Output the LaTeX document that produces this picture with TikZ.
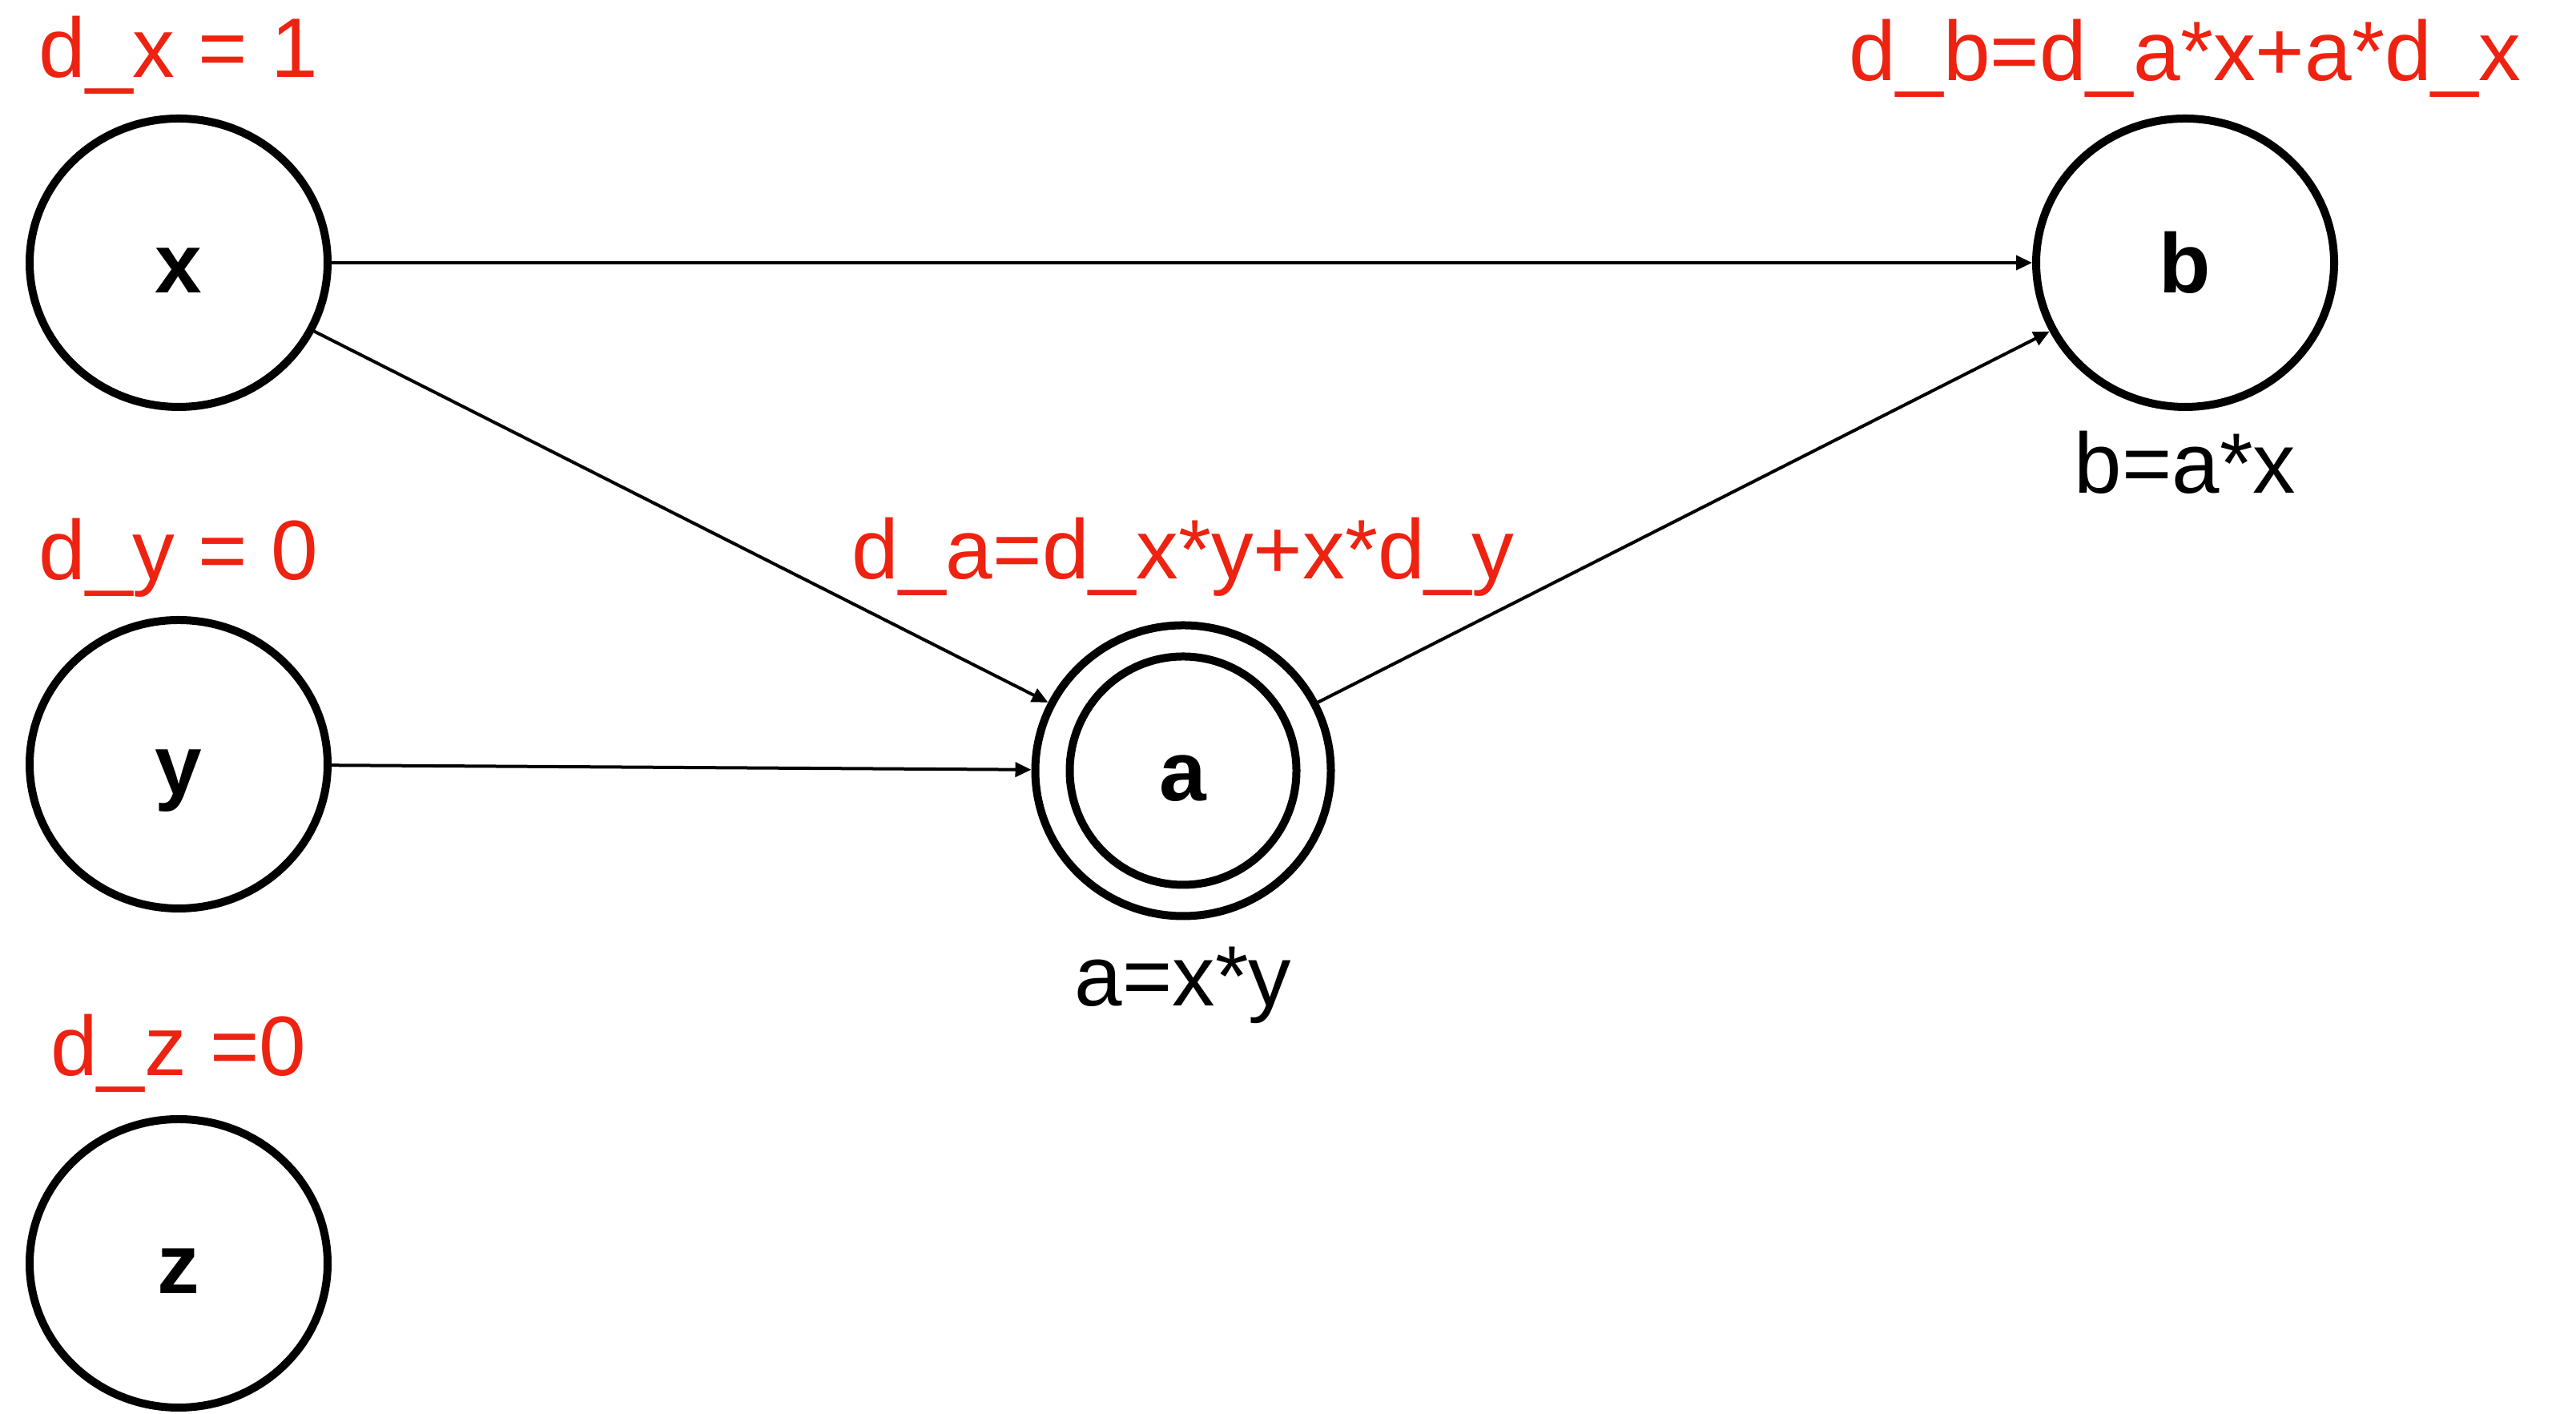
\documentclass[tikz,border=0pt]{standalone}
\usepackage{fontspec}
\setmainfont{Liberation Sans}
\usetikzlibrary{arrows.meta,positioning,shapes.geometric}
\definecolor{CgRed}{HTML}{EE2211}
\tikzset{
  cgvar/.style={
    ellipse,
    draw=black,
    line width=1mm,
    minimum width=3.72cm,
    minimum height=3.60cm,
    inner sep=0pt,
    text height=7.6mm,
    text depth=0pt,
    font=\fontsize{30}{36}\selectfont\bfseries
  },
  cgderiv/.style={
    text=CgRed,
    font=\fontsize{30}{36}\selectfont,
    inner sep=0pt,
    anchor=base
  },
  cgdef/.style={
    font=\fontsize{30.4}{36}\selectfont,
    inner sep=0pt,
    anchor=base
  },
  cgarrow/.style={-{Triangle[length=2mm,width=1.8mm]},line width=0.4mm}
}

\begin{document}
\begin{tikzpicture}
        \useasboundingbox (0,0) rectangle (32.16,17.65);
        \node[cgvar] (x) at (2.23,14.37) {x};
        \node[cgvar] (y) at (2.23,8.11) {y};
        \node[cgvar] (z) at (2.23,1.88) {z};
        \node[cgvar,minimum width=3.69cm,minimum height=3.63cm] (a) at (14.77,8.03) {a};
        \node[cgvar,minimum width=2.83cm,minimum height=2.85cm] (ainner) at (a) {};
        \node[cgvar] (b) at (27.28,14.37) {b};
        % derivatives
        \node[above=4.6mm of x,cgderiv] (dx) {d\_x = 1};
        \node[above=4.5mm of y,cgderiv] (dy) {d\_y = 0};
        \node[above=4.9mm of z,cgderiv] (dz) {d\_z =0};
        \node[above=5.3mm of a,cgderiv] (da) {d\_a=d\_x*y+x*d\_y};
        \node[above=4.2mm of b,cgderiv] (db) {d\_b=d\_a*x+a*d\_x};
        % definitions
        \node[below=10.7mm of a,cgdef] (adef) {a=x*y};
        \node[below=10.3mm of b,cgdef] (bdef) {b=a*x};
        \draw[cgarrow] (x) -- (b);
        \draw[cgarrow] (x) -- (a);
        \draw[cgarrow] (y) -- (a);
        \draw[cgarrow] (a) -- (b);
      \end{tikzpicture}
\end{document}
